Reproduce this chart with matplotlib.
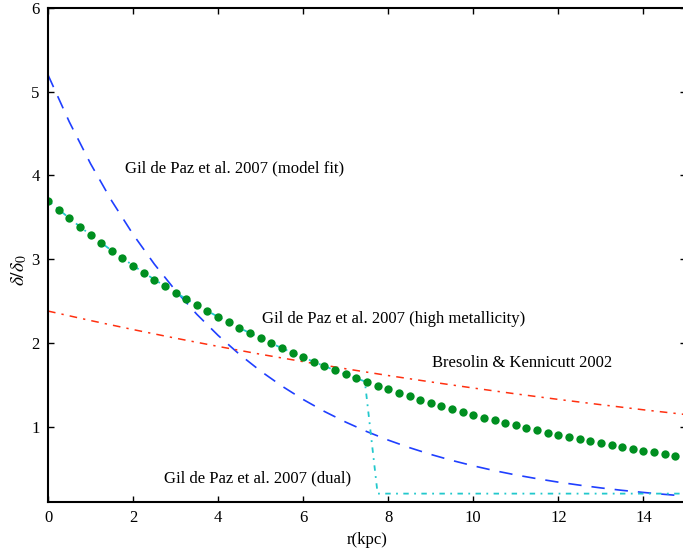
import matplotlib
matplotlib.use("Agg")
import matplotlib.pyplot as plt

# green dots: Gil de Paz et al. 2007 (high metallicity)
hm_r = [i * 0.25 for i in range(60)]
hm_d = [3.700, 3.593, 3.489, 3.388, 3.289, 3.194, 3.102, 3.012, 2.924, 2.840,
        2.757, 2.677, 2.600, 2.524, 2.451, 2.380, 2.311, 2.244, 2.179, 2.116,
        2.055, 1.995, 1.937, 1.881, 1.827, 1.774, 1.722, 1.672, 1.624, 1.577,
        1.531, 1.487, 1.444, 1.402, 1.361, 1.322, 1.284, 1.246, 1.210, 1.175,
        1.141, 1.108, 1.076, 1.045, 1.014, 0.985, 0.957, 0.929, 0.902, 0.876,
        0.850, 0.826, 0.802, 0.779, 0.756, 0.734, 0.713, 0.692, 0.672, 0.653]

# blue dashed: model fit
fit_r = [i * 0.5 for i in range(31)]
fit_d = [5.200, 4.640, 4.140, 3.694, 3.296, 2.941, 2.624, 2.341, 2.089, 1.864,
         1.663, 1.484, 1.324, 1.181, 1.054, 0.940, 0.839, 0.749, 0.668, 0.596,
         0.532, 0.474, 0.423, 0.378, 0.337, 0.301, 0.268, 0.239, 0.214, 0.191,
         0.170]

# red dash-dot: Bresolin & Kennicutt 2002
bk_r = list(range(16))
bk_d = [2.380, 2.267, 2.159, 2.056, 1.958, 1.864, 1.776, 1.691, 1.610, 1.534,
        1.461, 1.391, 1.325, 1.262, 1.201, 1.144]

# cyan: dual
dual_r = [0, 0.5, 1, 1.5, 2, 2.5, 3, 3.5, 4, 4.5, 5, 5.5, 6, 6.5, 7, 7.45, 7.75, 15]
dual_d = [3.700, 3.489, 3.289, 3.102, 2.924, 2.757, 2.600, 2.451, 2.311, 2.179,
          2.055, 1.937, 1.827, 1.722, 1.624, 1.540, 0.200, 0.200]

plt.rcParams["font.family"] = ["Liberation Serif", "DejaVu Serif"]
plt.rcParams["mathtext.fontset"] = "stix"

fig = plt.figure(figsize=(6.83, 5.52), dpi=100)
ax = fig.add_axes([0.0703, 0.0906, 0.934, 0.895])

ax.plot(fit_r, fit_d, color="#1f3fff", lw=1.2, dashes=(8, 6))
ax.plot(bk_r, bk_d, color="#ff3010", lw=1.1, dashes=(5, 4, 1.5, 4))
ax.plot(dual_r, dual_d, color="#22c8cc", lw=1.3, dashes=(3, 3, 1, 3))
ax.plot(hm_r, hm_d, "o", color="#008f20", ms=6, mew=0, ls="none")

ax.text(1.81, 4.08, "Gil de Paz et al. 2007 (model fit)", fontsize=12, va="center")
ax.text(5.03, 2.29, "Gil de Paz et al. 2007 (high metallicity)", fontsize=12, va="center")
ax.text(9.03, 1.76, "Bresolin & Kennicutt 2002", fontsize=12, va="center")
ax.text(2.73, 0.38, "Gil de Paz et al. 2007 (dual)", fontsize=12, va="center")

ax.set_xlim(0, 15)
ax.set_ylim(0.1, 6)
ax.set_xticks(range(0, 15, 2))
ax.set_yticks(range(1, 7))
ax.tick_params(direction="in", length=4, width=1, labelsize=12,
               top=True, right=True, pad=6)
for s in ax.spines.values():
    s.set_linewidth(1.5)
ax.set_xlabel("r(kpc)", fontsize=12, labelpad=4)
ax.set_ylabel(r"$\delta/\delta_0$", fontsize=14, labelpad=-2)
ax.yaxis.set_label_coords(-0.03, 0.47)

fig.savefig("out.png", dpi=100)
